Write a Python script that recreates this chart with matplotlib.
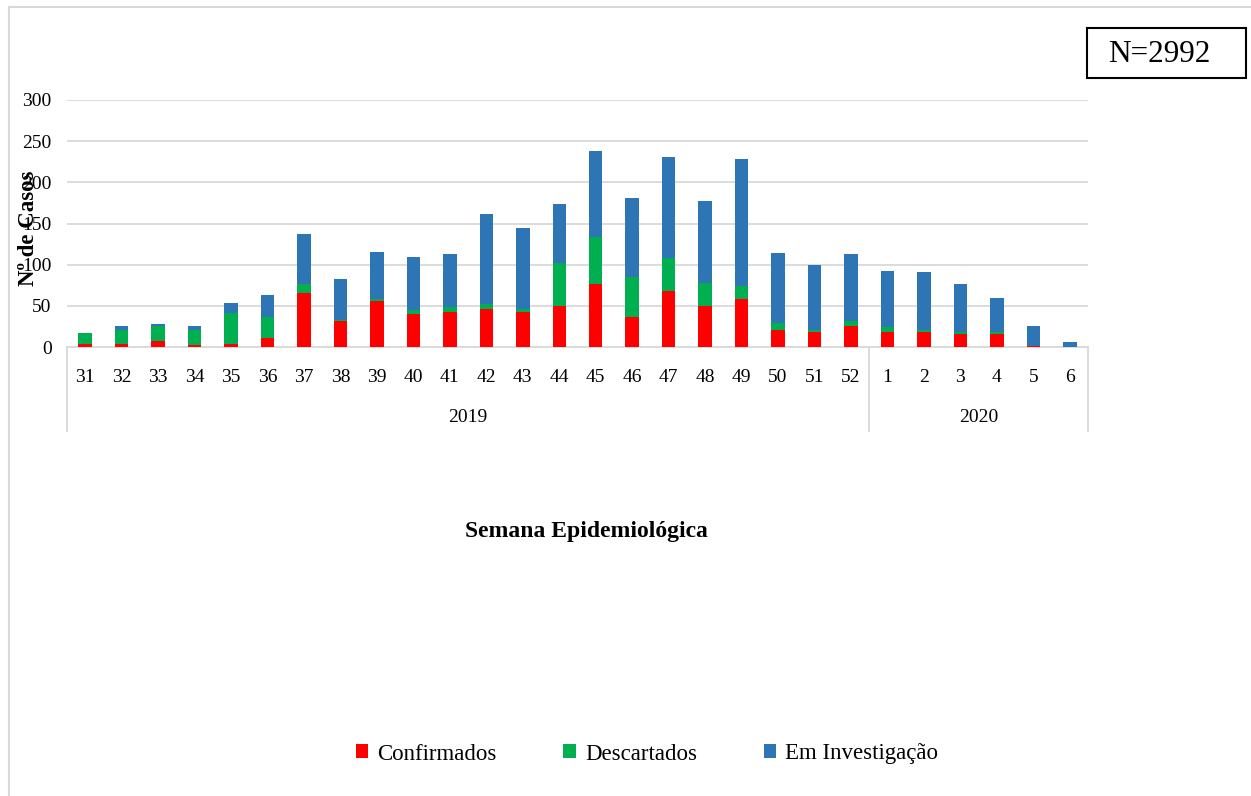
import numpy as np
import matplotlib
matplotlib.use('Agg')
import matplotlib.pyplot as plt
from matplotlib.patches import Rectangle
from matplotlib.lines import Line2D
import matplotlib.transforms as mtransforms

plt.rcParams['font.family'] = ['Liberation Serif', 'DejaVu Serif']

weeks = ['31', '32', '33', '34', '35', '36', '37', '38', '39', '40', '41', '42', '43', '44',
         '45', '46', '47', '48', '49', '50', '51', '52', '1', '2', '3', '4', '5', '6']
years = ['2019', '2020']
year_counts = [22, 6]

confirmados = [4, 4, 7, 3, 4, 11, 66, 32, 56, 40, 43, 46, 43, 50,
               77, 36, 68, 50, 58, 21, 18, 26, 18, 18, 16, 16, 1, 0]
descartados = [13, 17, 18, 18, 37, 25, 11, 1, 2, 5, 5, 6, 3, 52,
               56, 49, 40, 28, 16, 8, 3, 5, 6, 3, 2, 2, 0, 0]
investigacao = [0, 5, 3, 5, 13, 27, 60, 49, 57, 64, 65, 110, 99, 72,
                105, 96, 123, 99, 154, 85, 78, 82, 68, 70, 58, 41, 25, 6]

RED = '#FF0000'
GREEN = '#00B050'
BLUE = '#2E75B6'
GRID = '#D9D9D9'

W, H = 1251, 796
fig = plt.figure(figsize=(W / 100, H / 100), dpi=100)
ax = fig.add_axes([67 / W, 1 - 347 / H, (1088 - 67) / W, (347 - 100) / H])

x = np.arange(len(weeks))
c = np.array(confirmados)
d = np.array(descartados)
i = np.array(investigacao)
bw = 0.37
ax.bar(x, c, bw, color=RED, label='Confirmados', zorder=3)
ax.bar(x, d, bw, bottom=c, color=GREEN, label='Descartados', zorder=3)
ax.bar(x, i, bw, bottom=c + d, color=BLUE, label='Em Investigação', zorder=3)

ax.set_xlim(-0.5, len(weeks) - 0.5)
ax.set_ylim(0, 300)
ax.set_yticks(range(0, 301, 50))
ax.yaxis.grid(True, color=GRID, linewidth=1.3, zorder=0)
ax.tick_params(axis='y', length=0, pad=11, labelsize=14)
ax.set_xticks([])
for s in ['top', 'right', 'left']:
    ax.spines[s].set_visible(False)
ax.spines['bottom'].set_color(GRID)
ax.spines['bottom'].set_linewidth(1.3)

# category table under the axis
trans = mtransforms.blended_transform_factory(ax.transData, ax.transAxes)
for k, w in enumerate(weeks):
    ax.text(k, -30 / 247, w, transform=trans, ha='center', va='center', fontsize=14)
start = -0.5
bounds = [start]
for yr, n in zip(years, year_counts):
    ax.text(start + n / 2, -71 / 247, yr, transform=trans, ha='center', va='center', fontsize=14)
    start += n
    bounds.append(start)
for b in bounds:
    ax.add_line(Line2D([b, b], [0, -84 / 247], transform=trans, color=GRID,
                       linewidth=1.3, clip_on=False))

fig.text(586 / W, 1 - 531 / H, 'Semana Epidemiológica', ha='center', va='center',
         fontsize=17, fontweight='bold')
fig.text(29 / W, 1 - 228 / H, 'Nº de Casos', ha='center', va='center', rotation=90,
         fontsize=16.5, fontweight='bold')

# N box
fig.patches.append(Rectangle((1087 / W, 1 - 78 / H), 159 / W, 50 / H, transform=fig.transFigure,
                             fill=False, edgecolor='black', linewidth=1.5))
fig.text(1159 / W, 1 - 54 / H, 'N=2992', ha='center', va='center', fontsize=22.5)

# outer frame
fig.add_artist(Line2D([9 / W, 9 / W], [0, 1 - 7 / H], color=GRID, linewidth=1.5))
fig.add_artist(Line2D([9 / W, 1], [1 - 7 / H, 1 - 7 / H], color=GRID, linewidth=1.5))

fig.legend(loc='center', bbox_to_anchor=(647 / W, 1 - 754 / H), ncol=3, frameon=False,
           fontsize=16.5, handlelength=0.55, handleheight=0.55, handletextpad=0.4,
           columnspacing=2.9)

fig.savefig('out.png', dpi=100)
